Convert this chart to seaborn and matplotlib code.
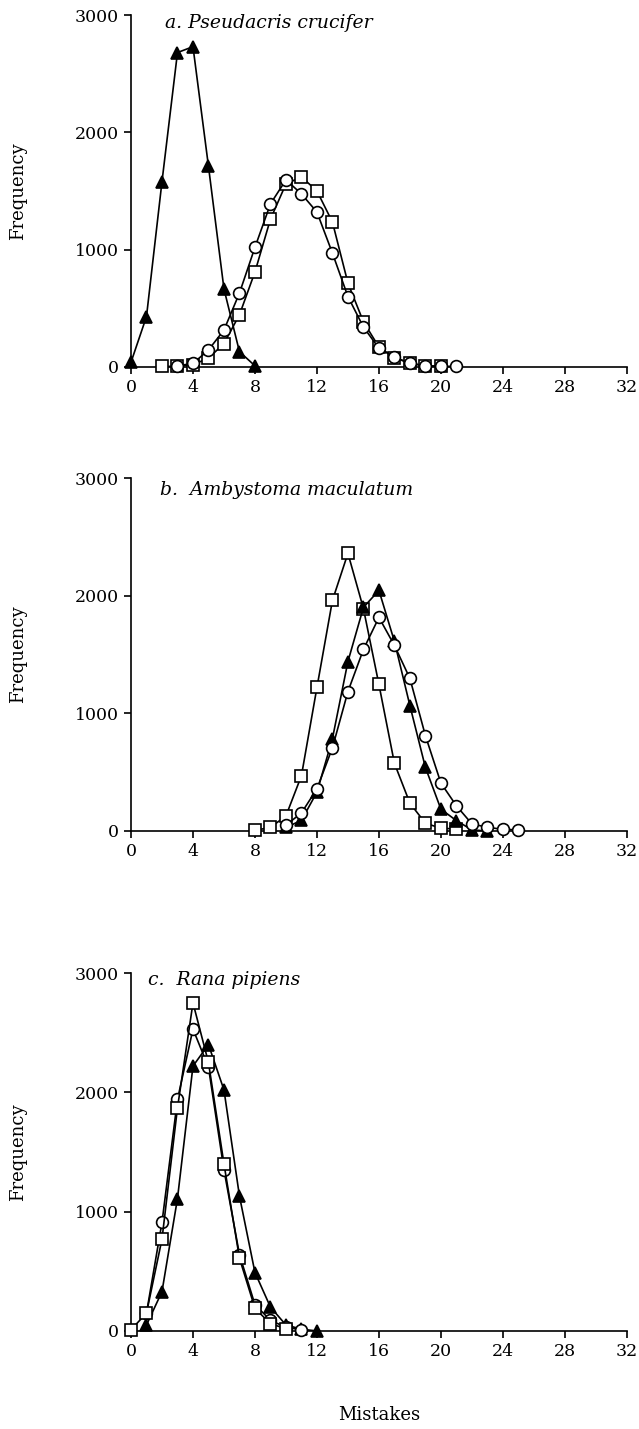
import numpy as np
import matplotlib
matplotlib.use("Agg")
import matplotlib.pyplot as plt
import seaborn as sns

sns.set_style("ticks")
plt.rcParams['font.family'] = ['DejaVu Serif']
plt.rcParams['text.color'] = 'black'
plt.rcParams['axes.labelcolor'] = 'black'

# ---- data ----
a_tri_x = list(range(0, 9))
a_tri_y = [40, 430, 1580, 2680, 2730, 1710, 665, 130, 10]
a_sq_x = list(range(2, 21))
a_sq_y = [5, 5, 20, 75, 200, 445, 810, 1260, 1560, 1620, 1500, 1235, 715, 385, 170, 77, 34, 8, 8]
a_ci_x = list(range(3, 22))
a_ci_y = [10, 30, 145, 315, 630, 1020, 1390, 1595, 1475, 1320, 970, 600, 340, 160, 85, 30, 10, 5, 5]

b_sq_x = list(range(8, 22))
b_sq_y = [5, 30, 128, 470, 1220, 1960, 2360, 1890, 1245, 575, 236, 66, 23, 17]
b_ci_x = list(range(10, 26))
b_ci_y = [50, 153, 358, 707, 1185, 1543, 1815, 1577, 1296, 810, 407, 214, 60, 31, 14, 9]
b_tri_x = list(range(10, 24))
b_tri_y = [30, 90, 330, 785, 1440, 1900, 2045, 1611, 1065, 540, 185, 88, 9, 0]

c_sq_x = list(range(0, 11))
c_sq_y = [10, 150, 770, 1870, 2750, 2250, 1400, 610, 190, 60, 20]
c_ci_x = list(range(1, 12))
c_ci_y = [150, 910, 1940, 2530, 2210, 1350, 640, 220, 90, 30, 10]
c_tri_x = list(range(1, 13))
c_tri_y = [50, 330, 1110, 2220, 2400, 2020, 1130, 490, 200, 50, 15, 0]

titles = ["a. Pseudacris crucifer", "b.  Ambystoma maculatum", "c.  Rana pipiens"]
x_ticks = list(range(0, 33, 4))
y_ticks = [0, 1000, 2000, 3000]

panels = [
    [(a_tri_x, a_tri_y, "^", "black"), (a_sq_x, a_sq_y, "s", "white"), (a_ci_x, a_ci_y, "o", "white")],
    [(b_sq_x, b_sq_y, "s", "white"), (b_tri_x, b_tri_y, "^", "black"), (b_ci_x, b_ci_y, "o", "white")],
    [(c_tri_x, c_tri_y, "^", "black"), (c_ci_x, c_ci_y, "o", "white"), (c_sq_x, c_sq_y, "s", "white")],
]

# axes boxes in figure fractions (left, bottom, width, height)
boxes = [
    (0.205, 0.7432, 0.776, 0.2463),
    (0.205, 0.4185, 0.776, 0.2470),
    (0.205, 0.0686, 0.776, 0.2505),
]
title_pos = [(0.069, 0.977), (0.058, 0.966), (0.034, 0.98)]
sizes = {"^": 9, "s": 8.5, "o": 8.5}

fig = plt.figure(figsize=(6.39, 14.29), dpi=100)

for i, (series, box) in enumerate(zip(panels, boxes)):
    ax = fig.add_axes(box)
    for xs, ys, m, fc in series:
        sns.lineplot(
            x=xs, y=ys, ax=ax,
            color="black", linewidth=1.2,
            marker=m, markersize=sizes[m],
            markerfacecolor=fc, markeredgecolor="black", markeredgewidth=1.2,
            clip_on=False, zorder=3
        )
    ax.set_xlim(0, 32)
    ax.set_ylim(0, 3000)
    ax.set_xticks(x_ticks)
    ax.set_yticks(y_ticks)
    ax.tick_params(labelsize=12.5, length=5, width=1.2, direction="out",
                   colors="black", labelcolor="black")
    sns.despine(ax=ax)
    for s in ["left", "bottom"]:
        ax.spines[s].set_linewidth(1.2)
        ax.spines[s].set_color("black")
    ax.set_ylabel("Frequency", fontsize=13)
    ax.yaxis.set_label_coords(-0.21, 0.5)
    ax.text(title_pos[i][0], title_pos[i][1], titles[i], transform=ax.transAxes,
            fontsize=13.5, ha="left", va="center", style="italic")
    if i == 2:
        ax.set_xlabel("Mistakes", fontsize=13)
        ax.xaxis.set_label_coords(0.5, -0.21)
    else:
        ax.set_xlabel("")

fig.savefig("out.png", dpi=100)
